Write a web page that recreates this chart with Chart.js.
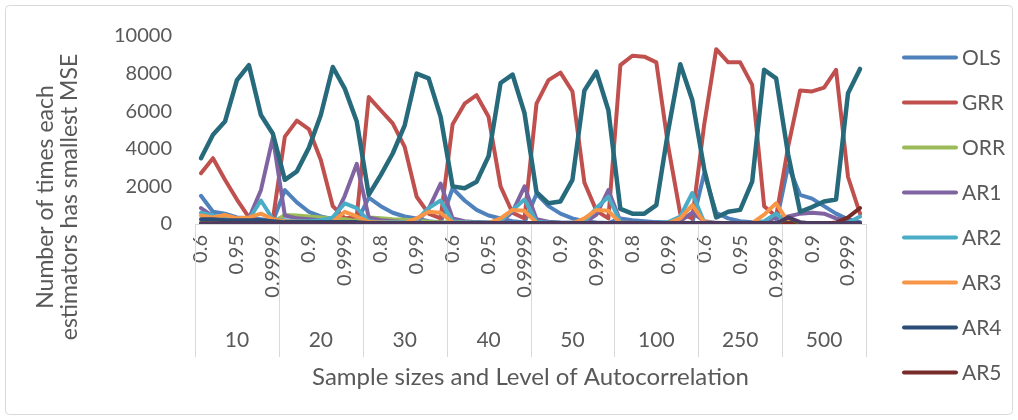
<!DOCTYPE html>
<html>
<head>
<meta charset="utf-8">
<script src="https://cdn.jsdelivr.net/npm/chart.js@4.4.1/dist/chart.umd.min.js"></script>
<style>
  html, body { margin: 0; padding: 0; background: #fff; }
  #wrap { width: 1018px; height: 420px; position: relative; }
</style>
</head>
<body>
<div id="wrap"><canvas id="chart"></canvas></div>
<script>
// ─── Data ─────────────────────────────────────────────────────────────
// 8 sample sizes x 7 autocorrelation levels = 56 points per estimator
const SAMPLE_SIZES = ['10', '20', '30', '40', '50', '100', '250', '500'];
const RHO_LEVELS   = ['0.6', '0.8', '0.9', '0.95', '0.99', '0.999', '0.9999'];
const Y_TICKS      = [0, 2000, 4000, 6000, 8000, 10000];
const Y_TITLE      = ['Number of times each', 'estimators has smallest MSE'];
const X_TITLE      = 'Sample sizes and Level of Autocorrelation';

const OLS = [
  1500, 650, 550, 350, 300, 250, 150,
  1800, 1150, 650, 400, 250, 150, 100,
  1400, 950, 600, 400, 300, 150, 80,
  1900, 1250, 750, 450, 300, 150, 80,
  1600, 950, 550, 300, 150, 80, 50,
  300, 200, 150, 100, 80, 60, 50,
  2700, 600, 300, 150, 100, 50, 30,
  3100, 1550, 1350, 950, 550, 250, 100,
];
const GRR = [
  2700, 3500, 2350, 1300, 350, 100, 250,
  4650, 5500, 5050, 3400, 950, 300, 400,
  6750, 6050, 5350, 4100, 1450, 550, 300,
  5300, 6400, 6850, 5700, 2000, 600, 300,
  6400, 7650, 8050, 7050, 2200, 700, 300,
  8450, 8950, 8900, 8600, 4100, 550, 300,
  5300, 9300, 8600, 8600, 7400, 950, 400,
  4100, 7100, 7050, 7250, 8200, 2500, 550,
];
const ORR = [
  100, 100, 120, 120, 100, 100, 80,
  480, 450, 400, 350, 300, 250, 150,
  350, 300, 250, 220, 180, 120, 80,
  100, 80, 60, 50, 40, 30, 30,
  30, 30, 30, 30, 30, 30, 30,
  30, 30, 30, 30, 30, 30, 30,
  30, 30, 30, 30, 30, 30, 30,
  100, 30, 20, 20, 20, 20, 20,
];
const AR1 = [
  850, 400, 250, 200, 300, 1800, 4600,
  450, 300, 250, 200, 150, 1500, 3200,
  350, 200, 150, 100, 100, 800, 2150,
  300, 150, 100, 80, 80, 650, 2000,
  250, 120, 80, 60, 60, 500, 1800,
  150, 80, 50, 40, 40, 150, 600,
  150, 60, 40, 30, 30, 100, 350,
  400, 550, 600, 550, 300, 150, 50,
];
const AR2 = [
  600, 450, 300, 200, 250, 1250, 250,
  200, 150, 150, 200, 350, 1100, 850,
  150, 100, 100, 100, 200, 850, 1250,
  150, 100, 80, 80, 150, 750, 1300,
  120, 80, 60, 60, 120, 850, 1450,
  100, 60, 50, 50, 100, 400, 1650,
  80, 50, 40, 40, 50, 150, 550,
  40, 30, 20, 20, 20, 60, 400,
];
const AR3 = [
  450, 350, 480, 300, 350, 550, 250,
  150, 120, 100, 100, 120, 650, 400,
  100, 80, 60, 60, 300, 650, 600,
  80, 60, 50, 50, 300, 750, 700,
  60, 50, 40, 40, 300, 750, 700,
  50, 40, 30, 30, 50, 300, 1000,
  100, 40, 30, 30, 50, 500, 1100,
  100, 10, 10, 10, 10, 10, 10,
];
const AR4 = [
  250, 250, 200, 200, 200, 200, 150,
  100, 100, 100, 100, 100, 100, 100,
  50, 50, 50, 50, 50, 50, 50,
  50, 50, 50, 50, 50, 50, 50,
  50, 50, 50, 50, 50, 50, 50,
  50, 50, 50, 50, 50, 50, 50,
  50, 50, 50, 50, 50, 50, 50,
  50, 50, 50, 50, 50, 50, 50,
];
const AR5 = [
  20, 20, 20, 20, 20, 20, 20,
  20, 20, 20, 20, 20, 20, 20,
  20, 20, 20, 20, 20, 20, 20,
  20, 20, 20, 20, 20, 20, 20,
  20, 20, 20, 20, 20, 20, 20,
  20, 20, 20, 20, 20, 20, 20,
  20, 20, 20, 20, 20, 20, 20,
  20, 20, 20, 20, 80, 350, 850,
];
const AR6 = [
  0, 0, 0, 0, 0, 0, 0,
  0, 0, 0, 0, 0, 0, 0,
  0, 0, 0, 0, 0, 0, 0,
  0, 0, 0, 0, 0, 0, 0,
  0, 0, 0, 0, 0, 0, 0,
  0, 0, 0, 0, 0, 0, 0,
  0, 0, 0, 0, 0, 0, 0,
  350, 50, 0, 0, 0, 0, 0,
];
const AR7 = [
  30, 30, 30, 30, 30, 30, 30,
  30, 30, 30, 30, 30, 30, 30,
  30, 30, 30, 30, 30, 30, 30,
  30, 30, 30, 30, 30, 30, 30,
  30, 30, 30, 30, 30, 30, 30,
  30, 30, 30, 30, 30, 30, 30,
  30, 30, 30, 30, 30, 30, 30,
  350, 100, 30, 30, 30, 30, 30,
];
const AR8 = [
  3500, 4750, 5450, 7650, 8450, 5800, 4800,
  2350, 2800, 4050, 5800, 8350, 7200, 5450,
  1550, 2600, 3750, 5250, 8000, 7750, 5700,
  2000, 1900, 2250, 3600, 7500, 7950, 5900,
  1700, 1100, 1200, 2350, 7100, 8100, 6050,
  800, 550, 550, 1000, 5000, 8500, 6600,
  2900, 350, 650, 750, 2250, 8200, 7750,
  3700, 650, 900, 1200, 1300, 6950, 8250,
];

const SERIES_NAMES  = ['OLS', 'GRR', 'ORR', 'AR1', 'AR2', 'AR3', 'AR4', 'AR5', 'AR6', 'AR7', 'AR8'];
const SERIES_VALUES = [OLS, GRR, ORR, AR1, AR2, AR3, AR4, AR5, AR6, AR7, AR8];
const SERIES_COLORS = ['#4F81BD', '#C0504D', '#9BBB59', '#8064A2', '#4BACC6', '#F79646',
                       '#2C4D75', '#772C2A', '#5F7530', '#4D3B62', '#276A7C'];
const LEGEND_SHOWN = 8;   // legend in the original is cut off after AR5

// ─── Styling ──────────────────────────────────────────────────────────
const FONT = 'Lato';
const INK  = '#595959';
const RULE = '#D9D9D9';

const labels = SAMPLE_SIZES.flatMap(() => RHO_LEVELS);
const perGroup = RHO_LEVELS.length;

// frame round the whole chart
const framePlugin = {
  id: 'frame',
  beforeDraw(chart) {
    const c = chart.ctx;
    c.save();
    c.fillStyle = '#fff';
    c.fillRect(0, 0, chart.width, chart.height);
    c.strokeStyle = RULE;
    c.lineWidth = 1;
    c.beginPath();
    c.roundRect(5.5, 5.5, chart.width - 11, chart.height - 11, 4);
    c.stroke();
    c.restore();
  }
};

// second axis level: sample size groups with separators, plus y title
const groupAxisPlugin = {
  id: 'groupAxis',
  afterDraw(chart) {
    const x = chart.scales.x;
    const c = chart.ctx;
    const top = chart.chartArea.bottom;
    const w = x.width / labels.length;
    c.save();
    c.strokeStyle = RULE;
    c.lineWidth = 1;
    for (let g = 0; g <= SAMPLE_SIZES.length; g++) {
      const px = Math.round(x.left + g * perGroup * w) + 0.5;
      c.beginPath();
      c.moveTo(px, top);
      c.lineTo(px, top + 133);
      c.stroke();
    }
    c.fillStyle = INK;
    c.font = `21px ${FONT}`;
    c.textAlign = 'center';
    c.textBaseline = 'middle';
    SAMPLE_SIZES.forEach((s, g) => {
      c.fillText(s, x.left + (g + 0.5) * perGroup * w, 340);
    });

    // y axis title, centred lower than the plot like the original
    c.font = `23px ${FONT}`;
    Y_TITLE.forEach((line, k) => {
      c.save();
      c.translate(46 + k * 24, 197);
      c.rotate(-Math.PI / 2);
      c.fillText(line, 0, 0);
      c.restore();
    });
    c.restore();
  }
};

// legend (only first entries, as in the original)
const legendPlugin = {
  id: 'sideLegend',
  afterDraw(chart) {
    const c = chart.ctx;
    c.save();
    c.font = `21px ${FONT}`;
    c.textBaseline = 'middle';
    c.textAlign = 'left';
    c.lineCap = 'round';
    for (let i = 0; i < LEGEND_SHOWN; i++) {
      const y = 57.5 + i * 45;
      c.strokeStyle = SERIES_COLORS[i];
      c.lineWidth = 4;
      c.beginPath();
      c.moveTo(904, y);
      c.lineTo(956, y);
      c.stroke();
      c.fillStyle = INK;
      c.fillText(SERIES_NAMES[i], 962, y + 1);
    }
    c.restore();
  }
};

const datasets = SERIES_NAMES.map((name, i) => ({
  label: name,
  data: SERIES_VALUES[i],
  borderColor: SERIES_COLORS[i],
  backgroundColor: SERIES_COLORS[i],
  borderWidth: name === 'AR8' ? 4.5 : 4,
  pointRadius: 0,
  tension: 0,
  borderJoinStyle: 'round',
  borderCapStyle: 'round',
  order: -i,          // later series on top, like the spreadsheet
}));

new Chart(document.getElementById('chart'), {
  type: 'line',
  data: { labels, datasets },
  plugins: [framePlugin, groupAxisPlugin, legendPlugin],
  options: {
    responsive: true,
    maintainAspectRatio: false,
    animation: false,
    layout: { padding: { top: 36, right: 152, bottom: 0, left: 0 } },
    plugins: {
      legend: { display: false },
      tooltip: { enabled: false },
    },
    scales: {
      x: {
        type: 'category',
        offset: true,
        grid: { display: false, drawTicks: false },
        border: { display: true, color: RULE },
        ticks: {
          autoSkip: false,
          minRotation: 90,
          maxRotation: 90,
          padding: 11,
          color: INK,
          font: { family: FONT, size: 20 },
          callback: (v, i) => (i % 3 === 0 ? labels[i] : ''),
        },
        title: {
          display: true,
          text: X_TITLE,
          color: INK,
          font: { family: FONT, size: 24, lineHeight: 1.2 },
          padding: { top: 0, bottom: 28 },
        },
        afterFit: s => { s.height = 196; },
      },
      y: {
        min: 0,
        max: 10000,
        grid: { display: false, drawTicks: false },
        border: { display: false },
        afterBuildTicks: s => { s.ticks = Y_TICKS.map(v => ({ value: v })); },
        ticks: {
          padding: 23,
          color: INK,
          font: { family: FONT, size: 20 },
          callback: v => String(v),
        },
        afterFit: s => { s.width = 195; },
      },
    },
  },
});
</script>
</body>
</html>
